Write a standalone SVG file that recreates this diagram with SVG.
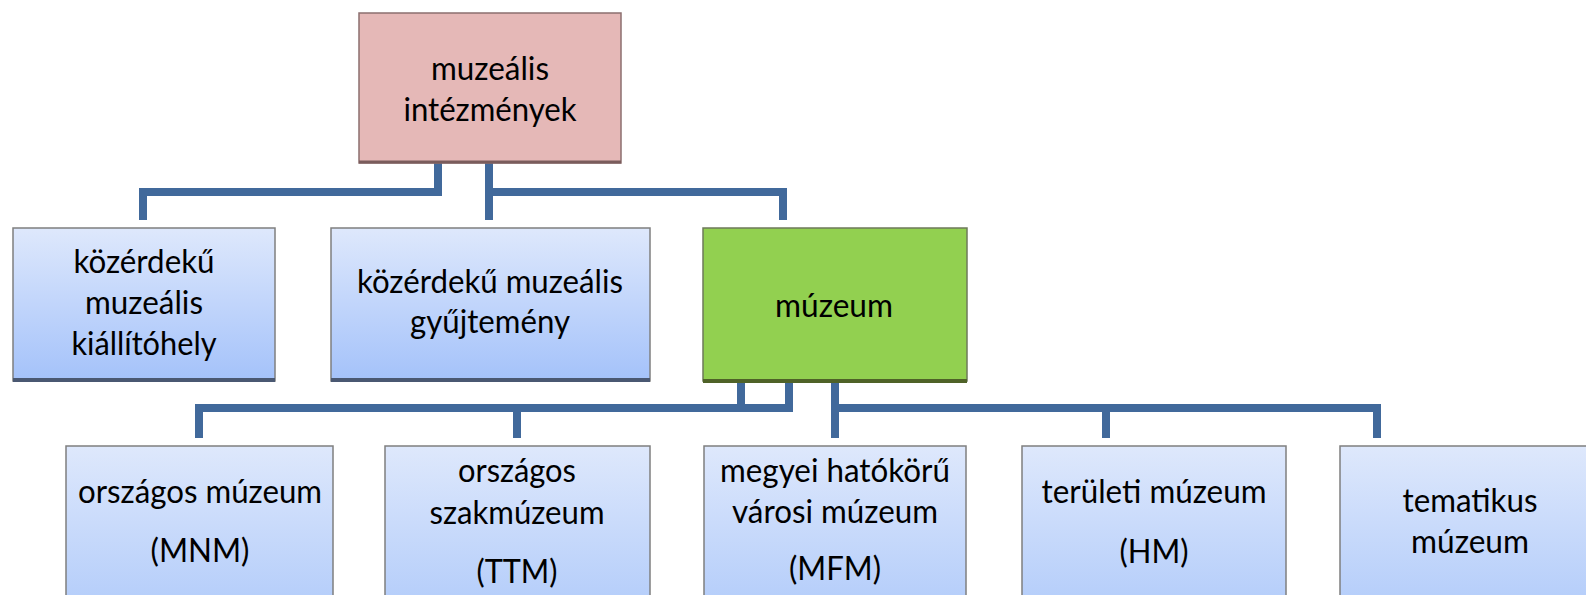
<svg xmlns="http://www.w3.org/2000/svg" width="1586" height="595" viewBox="0 0 1586 595">
<defs>
<linearGradient id="blue" x1="0" y1="0" x2="0" y2="1">
<stop offset="0" stop-color="#DEE8FC"/>
<stop offset="1" stop-color="#A4C2FA"/>
</linearGradient>
<linearGradient id="blue2" x1="0" y1="0" x2="0" y2="1">
<stop offset="0" stop-color="#DEE8FC"/>
<stop offset="1" stop-color="#B4CDFA"/>
</linearGradient>
<style>
.c{stroke:#41699B;stroke-width:8;fill:none;stroke-linecap:butt;stroke-linejoin:miter}
.b{fill:url(#blue);stroke:#7F7F7F;stroke-width:1.5}
.b2{fill:url(#blue2);stroke:#7F7F7F;stroke-width:1.5}
.sh{stroke:#4A5872;stroke-width:4}
.t{font-family:Lato,"Liberation Sans",sans-serif;font-size:32px;fill:#000;text-anchor:middle}
</style>
</defs>
<g id="connectors">
<path class="c" d="M438 163V192H143V220"/>
<path class="c" d="M489 163V220"/>
<path class="c" d="M489 192H783V220"/>
<path class="c" d="M741 383V408M789 383V408H199V438"/>
<path class="c" d="M517 408V438"/>
<path class="c" d="M835 383V438"/>
<path class="c" d="M835 408H1377V438"/>
<path class="c" d="M1106 408V438"/>
</g>
<g id="root">
<rect x="359" y="13" width="262" height="150" fill="#E5B8B7" stroke="#8C6F6F" stroke-width="1.5"/>
<line x1="359" y1="162" x2="621" y2="162" stroke="#7A5C5C" stroke-width="3"/>
<text class="t" x="490" y="80" textLength="118" lengthAdjust="spacingAndGlyphs">muzeális</text>
<text class="t" x="490" y="121" textLength="173" lengthAdjust="spacingAndGlyphs">intézmények</text>
</g>
<g id="kiallitohely">
<rect class="b" x="13" y="228" width="262" height="153"/>
<line class="sh" x1="13" y1="380" x2="275" y2="380"/>
<text class="t" x="144" y="273" textLength="141" lengthAdjust="spacingAndGlyphs">közérdekű</text>
<text class="t" x="144" y="314" textLength="118" lengthAdjust="spacingAndGlyphs">muzeális</text>
<text class="t" x="144" y="355" textLength="145" lengthAdjust="spacingAndGlyphs">kiállítóhely</text>
</g>
<g id="gyujtemeny">
<rect class="b" x="331" y="228" width="319" height="153"/>
<line class="sh" x1="331" y1="380" x2="650" y2="380"/>
<text class="t" x="490" y="293" textLength="266" lengthAdjust="spacingAndGlyphs">közérdekű muzeális</text>
<text class="t" x="490" y="333" textLength="160" lengthAdjust="spacingAndGlyphs">gyűjtemény</text>
</g>
<g id="muzeum">
<rect x="703" y="228" width="264" height="153" fill="#92D050" stroke="#6E7A5A" stroke-width="1.5"/>
<line x1="703" y1="381" x2="967" y2="381" stroke="#4F6228" stroke-width="4"/>
<text class="t" x="834" y="317" textLength="118" lengthAdjust="spacingAndGlyphs">múzeum</text>
</g>
<g id="mnm">
<rect class="b2" x="66" y="446" width="267" height="160"/>
<text class="t" x="200" y="503" textLength="244" lengthAdjust="spacingAndGlyphs">országos múzeum</text>
<text class="t" x="200" y="562" textLength="99" lengthAdjust="spacingAndGlyphs">(MNM)</text>
</g>
<g id="ttm">
<rect class="b2" x="385" y="446" width="265" height="160"/>
<text class="t" x="517" y="482" textLength="118" lengthAdjust="spacingAndGlyphs">országos</text>
<text class="t" x="517" y="524" textLength="175" lengthAdjust="spacingAndGlyphs">szakmúzeum</text>
<text class="t" x="517" y="583" textLength="81" lengthAdjust="spacingAndGlyphs">(TTM)</text>
</g>
<g id="mfm">
<rect class="b2" x="704" y="446" width="262" height="160"/>
<text class="t" x="835" y="482" textLength="230" lengthAdjust="spacingAndGlyphs">megyei hatókörű</text>
<text class="t" x="835" y="523" textLength="206" lengthAdjust="spacingAndGlyphs">városi múzeum</text>
<text class="t" x="835" y="580" textLength="92" lengthAdjust="spacingAndGlyphs">(MFM)</text>
</g>
<g id="hm">
<rect class="b2" x="1022" y="446" width="264" height="160"/>
<text class="t" x="1154" y="503" textLength="225" lengthAdjust="spacingAndGlyphs">területi múzeum</text>
<text class="t" x="1154" y="563" textLength="69" lengthAdjust="spacingAndGlyphs">(HM)</text>
</g>
<g id="tematikus">
<rect class="b2" x="1340" y="446" width="266" height="160"/>
<text class="t" x="1470" y="512" textLength="135" lengthAdjust="spacingAndGlyphs">tematikus</text>
<text class="t" x="1470" y="553" textLength="118" lengthAdjust="spacingAndGlyphs">múzeum</text>
</g>
</svg>
